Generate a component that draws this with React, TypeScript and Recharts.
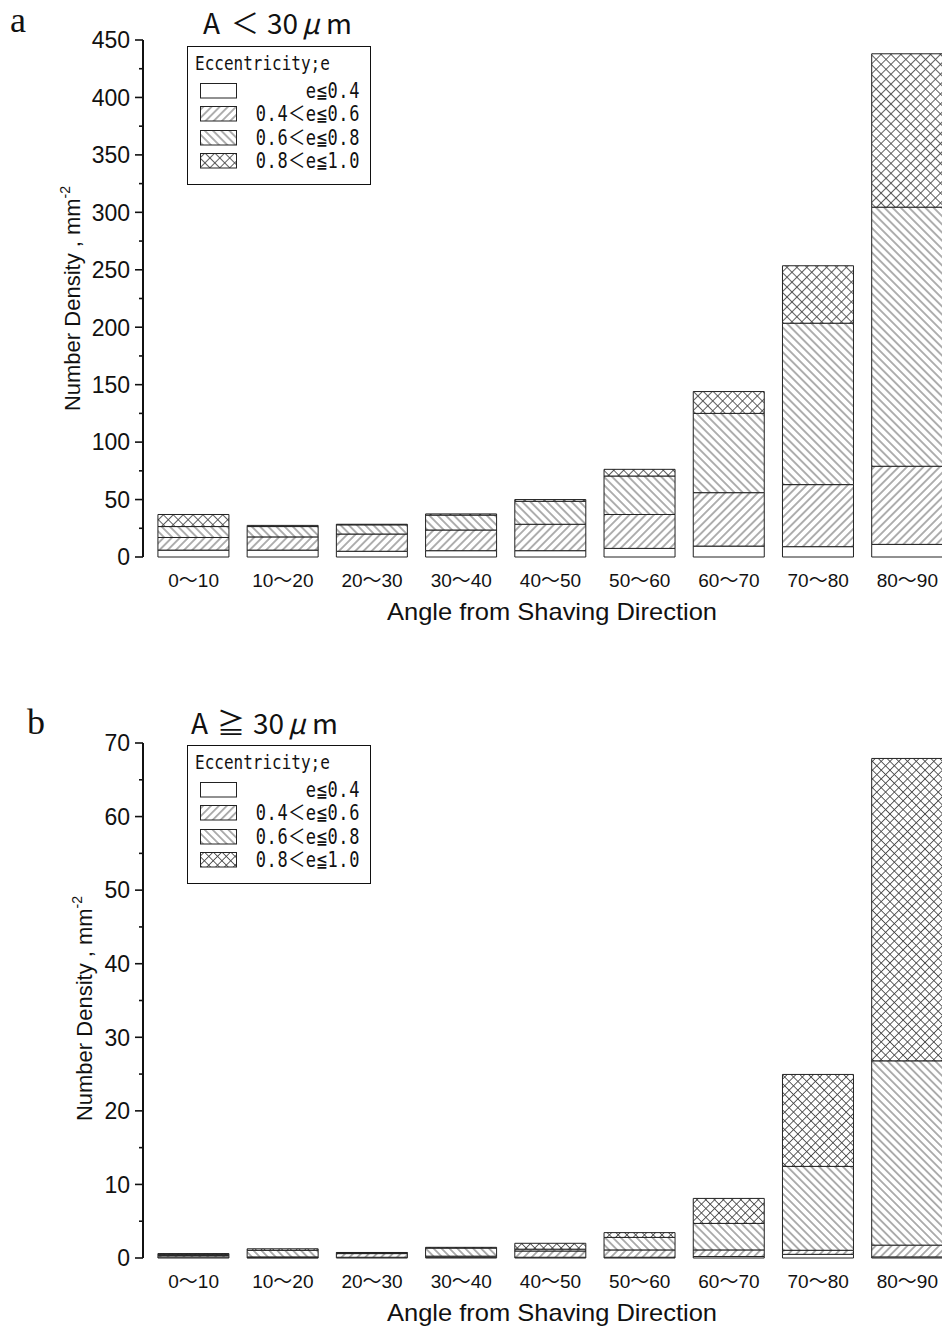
import { Bar, BarChart, Legend, XAxis, YAxis } from 'recharts';

const categories = ['0～10', '10～20', '20～30', '30～40', '40～50', '50～60', '60～70', '70～80', '80～90'];
const seriesNames = ['e≦0.4', '0.4＜e≦0.6', '0.6＜e≦0.8', '0.8＜e≦1.0'];

// panel a: A < 30 um
const aLow = [6, 6, 5, 5.5, 5.5, 7.5, 9.5, 9, 11];
const aMid = [11, 11.5, 15, 18, 23, 29.5, 46.5, 54, 68];
const aHigh = [9.5, 9, 8, 13, 20, 33.5, 69, 140.5, 225.5];
const aTop = [10.5, 1, 0.5, 1, 1.5, 5.8, 19, 50, 133.5];
const aTicks = [0, 25, 50, 75, 100, 125, 150, 175, 200, 225, 250, 275, 300, 325, 350, 375, 400, 425, 450];

// panel b: A >= 30 um
const bLow = [0.15, 0.05, 0.1, 0.1, 0.1, 0.1, 0.2, 0.5, 0.15];
const bMid = [0.2, 0.1, 0.5, 0.15, 0.85, 1.0, 0.9, 0.55, 1.6];
const bHigh = [0.15, 0.9, 0.1, 1.1, 0.25, 1.7, 3.6, 11.4, 25.05];
const bTop = [0.1, 0.2, 0.05, 0.1, 0.8, 0.65, 3.4, 12.5, 41.1];
const bTicks = [0, 5, 10, 15, 20, 25, 30, 35, 40, 45, 50, 55, 60, 65, 70];

const sans = "'Liberation Sans', 'Noto Sans CJK JP', Arial, sans-serif";
const mono = "'DejaVu Sans Mono', 'Noto Sans CJK JP', monospace";
const gothic = "'Noto Sans CJK JP', sans-serif";
const ink = '#111';

function buildRows(low: number[], mid: number[], high: number[], top: number[]) {
  return categories.map((cat, i) => ({ cat, low: low[i], mid: mid[i], high: high[i], top: top[i] }));
}

function patternDefs(id: string, hatch: number, cross: number) {
  return (
    <defs>
      <pattern id={`fwd-${id}`} width={hatch} height={hatch} patternUnits="userSpaceOnUse" patternTransform="rotate(45)">
        <rect width={hatch} height={hatch} fill="#fff" />
        <line x1={hatch / 2} y1={0} x2={hatch / 2} y2={hatch} stroke="#444" strokeWidth={0.85} />
      </pattern>
      <pattern id={`back-${id}`} width={hatch} height={hatch} patternUnits="userSpaceOnUse" patternTransform="rotate(-45)">
        <rect width={hatch} height={hatch} fill="#fff" />
        <line x1={hatch / 2} y1={0} x2={hatch / 2} y2={hatch} stroke="#444" strokeWidth={0.85} />
      </pattern>
      <pattern id={`cross-${id}`} width={cross} height={cross} patternUnits="userSpaceOnUse" patternTransform="rotate(45)">
        <rect width={cross} height={cross} fill="#fff" />
        <line x1={cross / 2} y1={0} x2={cross / 2} y2={cross} stroke="#444" strokeWidth={0.85} />
        <line x1={0} y1={cross / 2} x2={cross} y2={cross / 2} stroke="#444" strokeWidth={0.85} />
      </pattern>
    </defs>
  );
}

function YTick(props: any) {
  const { x, y, payload, major } = props;
  const isMajor = payload.value % major === 0;
  return (
    <g>
      <line x1={x - (isMajor ? 8 : 4)} x2={x} y1={y} y2={y} stroke={ink} strokeWidth={1.6} />
      {isMajor && (
        <text x={x - 13} y={y} dy="0.36em" textAnchor="end" fontSize={23} fontFamily={sans} fill={ink}>
          {payload.value}
        </text>
      )}
    </g>
  );
}

function XTick(props: any) {
  const { x, y, payload } = props;
  return (
    <text x={x} y={y + 23} dy="0.36em" textAnchor="middle" fontSize={19} fontFamily={sans} fill={ink}>
      {payload.value}
    </text>
  );
}

function XTitle(props: any) {
  const { tx, ty } = props;
  return (
    <text x={tx} y={ty} textAnchor="middle" fontSize={24} fontFamily={sans} fill={ink} textLength={330} lengthAdjust="spacingAndGlyphs">
      Angle from Shaving Direction
    </text>
  );
}

function YLabel(props: any) {
  const { lx, ly } = props;
  return (
    <text transform={`rotate(-90 ${lx} ${ly})`} x={lx} y={ly} dy="0.36em" textAnchor="middle" fontSize={22} fontFamily={sans} fill={ink}>
      Number Density , mm<tspan dy={-10} fontSize={14}>-2</tspan>
    </text>
  );
}

function LegendBox(props: any) {
  const { pid } = props;
  const fills = ['#fff', `url(#fwd-${pid})`, `url(#back-${pid})`, `url(#cross-${pid})`];
  return (
    <div style={{ width: 184, height: 139, border: '1.5px solid #111', background: '#fff', boxSizing: 'border-box', fontFamily: mono, color: ink, position: 'relative' }}>
      <div style={{ position: 'absolute', left: 7, top: 8, fontSize: 16, lineHeight: '18px', transform: 'scaleY(1.2)', transformOrigin: 'left center' }}>
        Eccentricity;e
      </div>
      {seriesNames.map((name, i) => (
        <div key={name} style={{ position: 'absolute', left: 12, top: 36 + i * 23.3, width: 160, height: 16, display: 'flex', alignItems: 'center' }}>
          <svg width={38} height={16} style={{ display: 'block' }}>
            <rect x={0.5} y={0.5} width={36} height={14.5} fill={fills[i]} stroke="#222" />
          </svg>
          <span style={{ marginLeft: 'auto', fontSize: 17, lineHeight: '16px', letterSpacing: 0.6, transform: 'scaleY(1.2)' }}>{name}</span>
        </div>
      ))}
    </div>
  );
}

type PanelProps = {
  pid: string;
  rows: ReturnType<typeof buildRows>;
  top: number;
  height: number;
  marginTop: number;
  marginBottom: number;
  max: number;
  ticks: number[];
  major: number;
  labelX: number;
  labelShift: number;
  hatch: number;
  cross: number;
  legendTop: number;
};

function Panel(p: PanelProps) {
  const fills = ['#fff', `url(#fwd-${p.pid})`, `url(#back-${p.pid})`, `url(#cross-${p.pid})`];
  const keys = ['low', 'mid', 'high', 'top'];
  const plotBottom = p.height - p.marginBottom - 70;
  const labelY = (p.marginTop + plotBottom) / 2 + p.labelShift;
  return (
    <div style={{ position: 'absolute', left: 0, top: p.top }}>
      <BarChart
        width={960}
        height={p.height}
        data={p.rows}
        margin={{ top: p.marginTop, right: 8, bottom: p.marginBottom, left: 0 }}
        barCategoryGap="10%"
      >
        {patternDefs(p.pid, p.hatch, p.cross)}
        <XAxis
          dataKey="cat"
          axisLine={false}
          tickLine={false}
          tickSize={0}
          tickMargin={0}
          height={70}
          interval={0}
          padding={{ left: 6, right: 0 }}
          tick={<XTick />}
          label={<XTitle tx={552} ty={plotBottom + 63} />}
        />
        <YAxis
          type="number"
          domain={[0, p.max]}
          ticks={p.ticks}
          interval={0}
          width={143}
          tickSize={0}
          tickMargin={0}
          tickLine={false}
          axisLine={{ stroke: ink, strokeWidth: 2 }}
          tick={<YTick major={p.major} />}
          label={<YLabel lx={p.labelX} ly={labelY} />}
        />
        <Legend
          layout="vertical"
          align="center"
          verticalAlign="middle"
          wrapperStyle={{ left: 187, top: p.legendTop, width: 184 }}
          content={<LegendBox pid={p.pid} />}
        />
        {keys.map((k, i) => (
          <Bar
            key={k}
            dataKey={k}
            name={seriesNames[i]}
            stackId="e"
            fill={fills[i]}
            stroke="#222"
            strokeWidth={1}
            isAnimationActive={false}
          />
        ))}
      </BarChart>
    </div>
  );
}

function Title(props: { x: number[]; y: number; rel: string }) {
  const { x, y, rel } = props;
  const parts = ['A', rel, '30', 'μ', 'm'];
  return (
    <g>
      {parts.map((t, i) => (
        <text key={i} x={x[i]} y={y} fontSize={28} fontFamily={gothic} fill={ink} fontStyle={t === 'μ' ? 'italic' : 'normal'}>
          {t}
        </text>
      ))}
    </g>
  );
}

export default function App() {
  const rowsA = buildRows(aLow, aMid, aHigh, aTop);
  const rowsB = buildRows(bLow, bMid, bHigh, bTop);
  return (
    <div style={{ position: 'absolute', left: 0, top: 0, width: 942, height: 1328, overflow: 'hidden', background: '#fff' }}>
      <Panel pid="a" rows={rowsA} top={0} height={640} marginTop={40} marginBottom={13} max={450} ticks={aTicks} major={50}
        labelX={72} labelShift={0} hatch={5.8} cross={7} legendTop={46} />
      <Panel pid="b" rows={rowsB} top={700} height={628} marginTop={43} marginBottom={0} max={70} ticks={bTicks} major={10}
        labelX={84} labelShift={8} hatch={5.6} cross={6.2} legendTop={45} />
      <svg width={942} height={1328} style={{ position: 'absolute', left: 0, top: 0, pointerEvents: 'none' }}>
        <text x={10} y={32} fontSize={36} fontFamily="'Liberation Serif', serif" fill={ink}>a</text>
        <text x={27} y={734} fontSize={36} fontFamily="'Liberation Serif', serif" fill={ink}>b</text>
        <Title x={[203, 231, 267, 302, 326]} y={34} rel="＜" />
        <Title x={[191, 217, 253, 288, 312]} y={734} rel="≧" />
      </svg>
    </div>
  );
}
